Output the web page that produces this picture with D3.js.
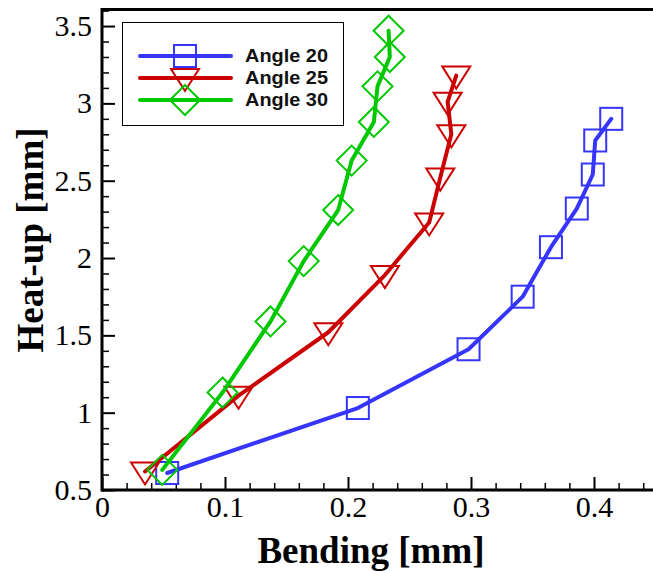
<!doctype html>
<html>
<head>
<meta charset="utf-8">
<title>Heat-up vs Bending</title>
<script src="https://cdnjs.cloudflare.com/ajax/libs/d3/7.8.5/d3.min.js"></script>
<style>
	body { margin: 0; background: #fff; }
	.tick text { font-family: "Liberation Serif", "Times New Roman", serif; font-size: 30px; fill: #000; }
</style>
</head>
<body>
<div id="chart-area"></div>
<script>
	// values
	var seriesNames = ["Angle 20", "Angle 25", "Angle 30"];
	var blueX  = [0.053, 0.208, 0.298, 0.342, 0.365, 0.386, 0.399, 0.401, 0.414];
	var blueY  = [0.61, 1.03, 1.41, 1.75, 2.07, 2.32, 2.54, 2.76, 2.90];
	var redX   = [0.035, 0.111, 0.184, 0.230, 0.266, 0.275, 0.284, 0.281, 0.288];
	var redY   = [0.62, 1.11, 1.52, 1.89, 2.23, 2.52, 2.80, 3.01, 3.18];
	var greenX = [0.049, 0.098, 0.137, 0.164, 0.192, 0.203, 0.221, 0.224, 0.234, 0.233];
	var greenY = [0.63, 1.13, 1.59, 1.98, 2.31, 2.63, 2.88, 3.11, 3.30, 3.47];
	var xTicks = [0, 0.1, 0.2, 0.3, 0.4];
	var yTicks = [0.5, 1, 1.5, 2, 2.5, 3, 3.5];

	var W = 653, H = 571;
	var plotLeft = 102, plotBottom = 490, plotTop = 9.5, plotRight = 655.5;

	var svg = d3.select("#chart-area").append("svg")
		.attr("width", W)
		.attr("height", H);

	var x = d3.scaleLinear().domain([0, 0.45]).range([plotLeft, plotRight]);
	var y = d3.scaleLinear().domain([0.5, 3.607]).range([plotBottom, plotTop]);

	// minor ticks
	var xMinor = d3.range(0, 0.451, 0.02).filter(function(d){ return Math.abs(d*10 - Math.round(d*10)) > 0.01; });
	var yMinor = d3.range(0.5, 3.61, 0.1).filter(function(d){ return Math.abs(d*2 - Math.round(d*2)) > 0.01; });

	svg.append("g")
		.attr("transform", "translate(0," + plotBottom + ")")
		.call(d3.axisBottom(x).tickValues(xMinor).tickSize(-7).tickSizeOuter(0).tickFormat(""))
		.call(function(g){ g.select(".domain").remove(); g.selectAll("line").attr("stroke-width", 1.5); });
	svg.append("g")
		.attr("transform", "translate(" + plotLeft + ",0)")
		.call(d3.axisLeft(y).tickValues(yMinor).tickSize(-7).tickSizeOuter(0).tickFormat(""))
		.call(function(g){ g.select(".domain").remove(); g.selectAll("line").attr("stroke-width", 1.5); });

	// major ticks + labels
	svg.append("g")
		.attr("transform", "translate(0," + plotBottom + ")")
		.call(d3.axisBottom(x).tickValues(xTicks).tickSize(-13).tickSizeOuter(0).tickPadding(6).tickFormat(d3.format("~g")))
		.call(function(g){ g.select(".domain").remove(); g.selectAll("line").attr("stroke-width", 2); });
	svg.append("g")
		.attr("transform", "translate(" + plotLeft + ",0)")
		.call(d3.axisLeft(y).tickValues(yTicks).tickSize(-13).tickSizeOuter(0).tickPadding(10).tickFormat(d3.format("~g")))
		.call(function(g){ g.select(".domain").remove(); g.selectAll("line").attr("stroke-width", 2); });

	// frame
	svg.append("line").attr("x1", plotLeft).attr("x2", W).attr("y1", plotBottom).attr("y2", plotBottom)
		.attr("stroke", "#000").attr("stroke-width", 3);
	svg.append("line").attr("x1", plotLeft).attr("x2", W).attr("y1", plotTop).attr("y2", plotTop)
		.attr("stroke", "#000").attr("stroke-width", 3);
	svg.append("line").attr("x1", plotLeft).attr("x2", plotLeft).attr("y1", plotTop - 1.5).attr("y2", plotBottom + 1.5)
		.attr("stroke", "#000").attr("stroke-width", 3);

	// axis titles
	svg.append("text")
		.attr("x", 371)
		.attr("y", 563)
		.attr("text-anchor", "middle")
		.attr("font-family", "Liberation Serif, Times New Roman, serif")
		.attr("font-weight", "bold")
		.attr("font-size", "37px")
		.text("Bending [mm]");
	svg.append("text")
		.attr("transform", "translate(43,240) rotate(-90)")
		.attr("text-anchor", "middle")
		.attr("font-family", "Liberation Serif, Times New Roman, serif")
		.attr("font-weight", "bold")
		.attr("font-size", "37px")
		.text("Heat-up [mm]");

	var colours = ["#3535ff", "#cc0000", "#00c800"];
	var shapes = ["square", "triangle", "diamond"];
	var series = [
		d3.zip(blueX, blueY),
		d3.zip(redX, redY),
		d3.zip(greenX, greenY)
	];

	function marker(sel, shape) {
		if (shape === "square") {
			sel.append("rect").attr("x", -11).attr("y", -11).attr("width", 22).attr("height", 22);
		} else if (shape === "triangle") {
			sel.append("path").attr("d", "M-14,-9L14,-9L0,13Z");
		} else {
			sel.append("path").attr("d", "M0,-15L15,0L0,15L-15,0Z");
		}
	}

	var line = d3.line()
		.x(function(d){ return x(d[0]); })
		.y(function(d){ return y(d[1]); });

	series.forEach(function(data, i){
		svg.append("path")
			.attr("d", line(data))
			.attr("fill", "none")
			.attr("stroke", colours[i])
			.attr("stroke-width", 4)
			.attr("stroke-linejoin", "round")
			.attr("stroke-linecap", "round");

		svg.append("g").selectAll("g")
			.data(data)
			.enter().append("g")
			.attr("transform", function(d){ return "translate(" + x(d[0]) + "," + y(d[1]) + ")"; })
			.attr("fill", "none")
			.attr("stroke", colours[i])
			.attr("stroke-width", 2)
			.each(function(){ marker(d3.select(this), shapes[i]); });
	});

	// legend
	var legend = svg.append("g");
	legend.append("rect")
		.attr("x", 122.5).attr("y", 22.5)
		.attr("width", 221).attr("height", 103)
		.attr("fill", "#fff")
		.attr("stroke", "#000")
		.attr("stroke-width", 1);

	seriesNames.forEach(function(name, i){
		var row = legend.append("g").attr("transform", "translate(0," + (56 + i * 22) + ")");
		row.append("line")
			.attr("x1", 140).attr("x2", 231)
			.attr("stroke", colours[i])
			.attr("stroke-width", 4)
			.attr("stroke-linecap", "round");
		var m = row.append("g")
			.attr("transform", "translate(185,0)")
			.attr("fill", "none")
			.attr("stroke", colours[i])
			.attr("stroke-width", 2);
		marker(m, shapes[i]);
		row.append("text")
			.attr("x", 245)
			.attr("y", 6)
			.attr("font-family", "Liberation Sans, Arial, sans-serif")
			.attr("font-weight", "bold")
			.attr("font-size", "18px")
			.attr("textLength", 83)
			.attr("lengthAdjust", "spacingAndGlyphs")
			.attr("fill", "#111")
			.text(name);
	});
</script>
</body>
</html>
